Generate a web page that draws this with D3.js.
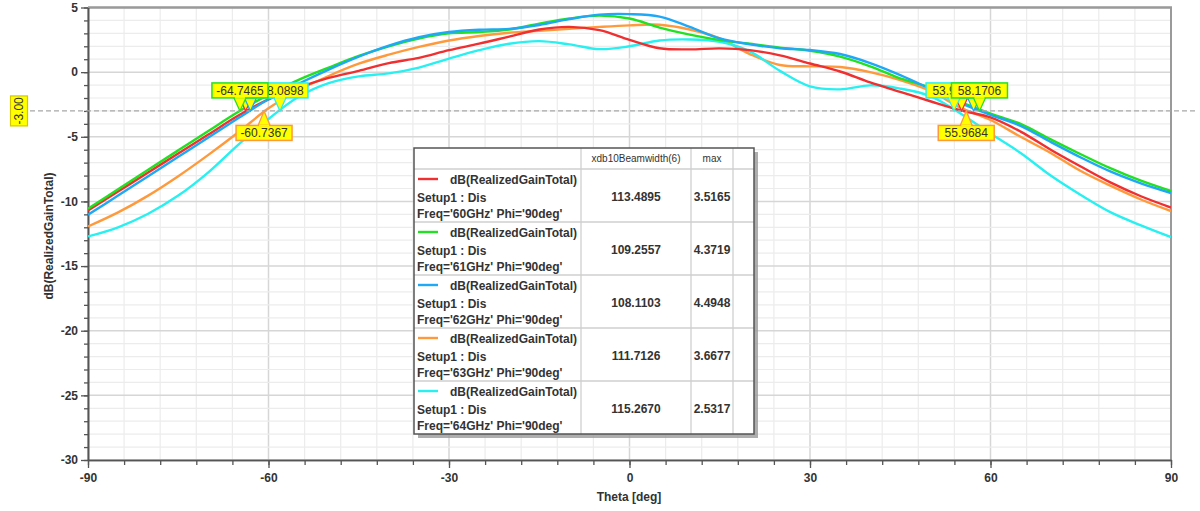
<!DOCTYPE html>
<html><head><meta charset="utf-8">
<script src="https://cdn.jsdelivr.net/npm/d3@7"></script>
<style>
body{margin:0;background:#fff}
svg{display:block;font-family:"Liberation Sans",Arial,sans-serif}
</style>
</head><body>
<svg id="chart" width="1200" height="511"></svg>
<script>
// ---------------- DATA ----------------
const theta = [-90,-85,-80,-75,-70,-65,-60,-55,-50,-45,-40,-35,-30,-25,-20,-15,-10,-5,0,5,10,15,20,25,30,35,40,45,50,55,60,65,70,75,80,85,90];
const gain60 = [-10.70,-9.23,-7.76,-6.30,-4.83,-3.36,-2.10,-1.20,-0.45,0.10,0.70,1.10,1.70,2.20,2.75,3.30,3.50,3.25,2.50,1.85,1.76,1.84,1.70,1.30,0.67,0.05,-0.80,-1.52,-2.25,-2.95,-3.50,-4.60,-6.00,-7.30,-8.55,-9.60,-10.47];
const gain61 = [-10.57,-9.05,-7.55,-6.05,-4.55,-3.07,-1.75,-0.60,0.35,1.25,2.00,2.60,3.00,3.10,3.30,3.75,4.15,4.37,4.15,3.45,2.90,2.48,2.20,1.90,1.65,1.20,0.45,-0.49,-1.20,-2.30,-3.20,-4.00,-5.20,-6.35,-7.45,-8.40,-9.20];
const gain62 = [-11.03,-9.55,-8.05,-6.55,-5.05,-3.55,-2.10,-0.90,0.20,1.20,2.05,2.70,3.10,3.28,3.35,3.65,4.10,4.45,4.49,4.30,3.50,2.61,2.15,1.85,1.71,1.40,0.70,-0.23,-1.30,-2.40,-3.30,-4.15,-5.40,-6.60,-7.70,-8.60,-9.35];
const gain63 = [-11.94,-10.85,-9.55,-8.05,-6.40,-4.65,-2.80,-1.40,-0.30,0.65,1.35,1.95,2.45,2.80,3.05,3.20,3.35,3.50,3.62,3.667,3.30,2.61,1.40,0.55,0.45,0.40,0.00,-0.62,-1.45,-2.75,-3.70,-5.00,-6.25,-7.65,-8.80,-9.85,-10.75];
const gain64 = [-12.71,-12.00,-10.95,-9.55,-7.75,-5.60,-3.62,-1.90,-0.85,-0.33,-0.10,0.35,1.05,1.70,2.20,2.40,2.15,1.78,2.00,2.45,2.53,2.35,1.60,0.10,-1.10,-1.33,-1.02,-1.27,-1.85,-3.20,-4.75,-6.25,-8.00,-9.50,-10.85,-11.85,-12.76];

const freqs = ["60GHz","61GHz","62GHz","63GHz","64GHz"];
const beamwidth = ["113.4895","109.2557","108.1103","111.7126","115.2670"];
const maxGain = ["3.5165","4.3719","4.4948","3.6677","2.5317"];
const seriesColors = ["#f03030","#22e022","#1ea8f5","#ff9a3c","#28f0f0"];

const xTicks = [-90,-60,-30,0,30,60,90];
const yTicks = [-30,-25,-20,-15,-10,-5,0,5];
const refLevel = -3;
const refLabel = "-3.00";
// -3 dB markers: theta, label text (null = label hidden)
const leftMarkerTheta = [-63.8,-64.7465,-63.0,-60.7367,-58.0898];
const leftMarkerText  = [null,"-64.7465",null,"-60.7367","-58.0898"];
const rightMarkerTheta = [55.2,58.1706,57.2,55.9684,53.9462];
const rightMarkerText  = [null,"58.1706",null,"55.9684","53.9462"];
const markerBelow = [false,false,false,true,false];

const series = [gain60,gain61,gain62,gain63,gain64];

// ---------------- LAYOUT ----------------
const svg = d3.select("#chart");
const L = 88, R = 1171, T = 7.5, B = 460;
const x = d3.scaleLinear().domain([-90,90]).range([L,R]);
const y = d3.scaleLinear().domain([-30,5]).range([B,T]);
const fmt = d => String(d);

svg.append("rect").attr("width",1200).attr("height",511).attr("fill","#fff");

// grid
const grid = svg.append("g");
d3.range(-90,91,6).forEach(v=>{
  grid.append("line").attr("x1",x(v)).attr("x2",x(v)).attr("y1",T).attr("y2",B)
    .attr("stroke", v%30===0 ? "#d6d6d6" : "#ececec").attr("stroke-width", v%30===0?1.5:1.2);
});
d3.range(-30,6,1).forEach(v=>{
  grid.append("line").attr("x1",L).attr("x2",R).attr("y1",y(v)).attr("y2",y(v))
    .attr("stroke", v%5===0 ? "#d6d6d6" : "#ececec").attr("stroke-width", v%5===0?1.5:1.2);
});

// frame top/right
svg.append("line").attr("x1",L).attr("x2",R+1).attr("y1",T).attr("y2",T).attr("stroke","#9a9a9a").attr("stroke-width",2.5);
svg.append("line").attr("x1",R).attr("x2",R).attr("y1",T).attr("y2",B).attr("stroke","#9a9a9a").attr("stroke-width",2);

// axes
const styleAxis = g => {
  g.select(".domain").attr("stroke","#555").attr("stroke-width",1.6);
  g.selectAll(".tick line").attr("stroke","#555").attr("stroke-width",1.3);
  g.selectAll(".tick text").attr("fill","#333").attr("font-size","12px").attr("font-weight","bold")
   .attr("font-family","'Liberation Sans',Arial,sans-serif");
};
svg.append("g").attr("transform",`translate(${L},0)`)
  .call(d3.axisLeft(y).tickValues(d3.range(-30,6,1)).tickSize(4).tickFormat("").tickSizeOuter(0)).call(styleAxis);
svg.append("g").attr("transform",`translate(${L},0)`)
  .call(d3.axisLeft(y).tickValues(yTicks).tickSize(7).tickPadding(3).tickFormat(fmt).tickSizeOuter(0)).call(styleAxis);
svg.append("g").attr("transform",`translate(0,${B})`)
  .call(d3.axisBottom(x).tickValues(d3.range(-90,91,6)).tickSize(5).tickFormat("").tickSizeOuter(0)).call(styleAxis);
svg.append("g").attr("transform",`translate(0,${B})`)
  .call(d3.axisBottom(x).tickValues(xTicks).tickSize(8).tickPadding(5).tickFormat(fmt).tickSizeOuter(0)).call(styleAxis);

// axis titles
svg.append("text").attr("x",629).attr("y",501).attr("text-anchor","middle")
  .attr("font-size","12px").attr("font-weight","bold").attr("fill","#333").text("Theta [deg]");
svg.append("text").attr("transform","translate(53,236) rotate(-90)").attr("text-anchor","middle")
  .attr("font-size","12px").attr("font-weight","bold").attr("fill","#333").text("dB(RealizedGainTotal)");

// clip
svg.append("clipPath").attr("id","clip").append("rect").attr("x",L).attr("y",T).attr("width",R-L).attr("height",B-T);

// curves
const line = d3.line().x((d,i)=>x(theta[i])).y(d=>y(d)).curve(d3.curveCatmullRom.alpha(0.5));
const drawOrder = [3,4,0,1,2];
const curves = svg.append("g").attr("clip-path","url(#clip)");
drawOrder.forEach(si=>{
  curves.append("path").datum(series[si]).attr("d",line).attr("fill","none")
    .attr("stroke",seriesColors[si]).attr("stroke-width",2.4).attr("stroke-linejoin","round");
});

// reference dashed line
svg.append("line").attr("x1",30).attr("x2",1196).attr("y1",y(refLevel)).attr("y2",y(refLevel))
  .attr("stroke","#a8a8a8").attr("stroke-width",1.2).attr("stroke-dasharray","5,3");
const rl = svg.append("g").attr("transform",`translate(19,${y(refLevel)})`);
rl.append("rect").attr("x",-8.5).attr("y",-15).attr("width",17).attr("height",30)
  .attr("fill","#ffff00").attr("stroke","#d4c800").attr("stroke-width",1.2);
rl.append("text").attr("transform","rotate(-90)").attr("text-anchor","middle").attr("dy","0.36em")
  .attr("font-size","12px").attr("fill","#333").text(refLabel);

// markers
const mk = svg.append("g");
const yRef = y(refLevel);
function drawMarker(t, txt, si, below){
  const cx = x(t);
  const boxW = 56, boxH = 15;
  const boxTop = below ? yRef + 14.5 : yRef - 13 - boxH;
  const baseY = below ? boxTop : boxTop + boxH;
  mk.append("path").attr("d",`M${cx-6},${baseY}L${cx},${yRef}L${cx+6},${baseY}Z`)
    .attr("fill","#ffff00").attr("stroke",seriesColors[si]).attr("stroke-width",1.3);
  if (txt){
    mk.append("rect").attr("x",cx-boxW/2).attr("y",boxTop).attr("width",boxW).attr("height",boxH)
      .attr("fill","#ffff00").attr("stroke",seriesColors[si]).attr("stroke-width",1.5);
    mk.append("path").attr("d",`M${cx-5},${baseY}L${cx+5},${baseY}`).attr("stroke","#ffff00").attr("stroke-width",1.6);
    mk.append("text").attr("x",cx).attr("y",boxTop+boxH/2).attr("dy","0.36em").attr("text-anchor","middle")
      .attr("font-size","12px").attr("fill","#333").text(txt);
  }
}
const mOrder = [0,2,4,3,1];
mOrder.forEach(si=>{
  drawMarker(leftMarkerTheta[si], leftMarkerText[si], si, markerBelow[si]);
  drawMarker(rightMarkerTheta[si], rightMarkerText[si], si, markerBelow[si]);
});

// legend table
const tb = svg.append("g");
const tx0 = 414, ty0 = 148, tx1 = 754, ty1 = 434;
const colX = [414,581,691,733,754];
const headH = 21, rowH = 53;
tb.append("rect").attr("x",tx0+4).attr("y",ty0+4).attr("width",tx1-tx0).attr("height",ty1-ty0).attr("fill","#9a9a9a").attr("opacity",0.8);
tb.append("rect").attr("x",tx0).attr("y",ty0).attr("width",tx1-tx0).attr("height",ty1-ty0).attr("fill","#fff");
colX.slice(1,4).forEach(cx=>{
  tb.append("line").attr("x1",cx).attr("x2",cx).attr("y1",ty0).attr("y2",ty1).attr("stroke","#cfcfcf").attr("stroke-width",1.3);
});
for (let i=0;i<5;i++){
  const yy = ty0+headH+i*rowH;
  tb.append("line").attr("x1",tx0).attr("x2",tx1).attr("y1",yy).attr("y2",yy).attr("stroke","#cfcfcf").attr("stroke-width",1.3);
}
tb.append("rect").attr("x",tx0).attr("y",ty0).attr("width",tx1-tx0).attr("height",ty1-ty0)
  .attr("fill","none").attr("stroke","#555").attr("stroke-width",1.5);
tb.append("text").attr("x",(colX[1]+colX[2])/2).attr("y",ty0+headH/2).attr("dy","0.36em").attr("text-anchor","middle")
  .attr("font-size","10px").attr("fill","#333").text("xdb10Beamwidth(6)");
tb.append("text").attr("x",(colX[2]+colX[3])/2).attr("y",ty0+headH/2).attr("dy","0.36em").attr("text-anchor","middle")
  .attr("font-size","10px").attr("fill","#333").text("max");
freqs.forEach((f,i)=>{
  const top = ty0+headH+i*rowH;
  const g = tb.append("g").attr("font-size","12px").attr("font-weight","bold").attr("fill","#333");
  g.append("line").attr("x1",418).attr("x2",438).attr("y1",top+10).attr("y2",top+10).attr("stroke",seriesColors[i]).attr("stroke-width",2.4);
  g.append("text").attr("x",450).attr("y",top+15).text("dB(RealizedGainTotal)");
  g.append("text").attr("x",417).attr("y",top+33).text("Setup1 : Dis");
  g.append("text").attr("x",417).attr("y",top+49).text(`Freq='${f}' Phi='90deg'`);
  g.append("text").attr("x",(colX[1]+colX[2])/2).attr("y",top+32).attr("text-anchor","middle").text(beamwidth[i]);
  g.append("text").attr("x",(colX[2]+colX[3])/2).attr("y",top+32).attr("text-anchor","middle").text(maxGain[i]);
});
</script>
</body></html>
